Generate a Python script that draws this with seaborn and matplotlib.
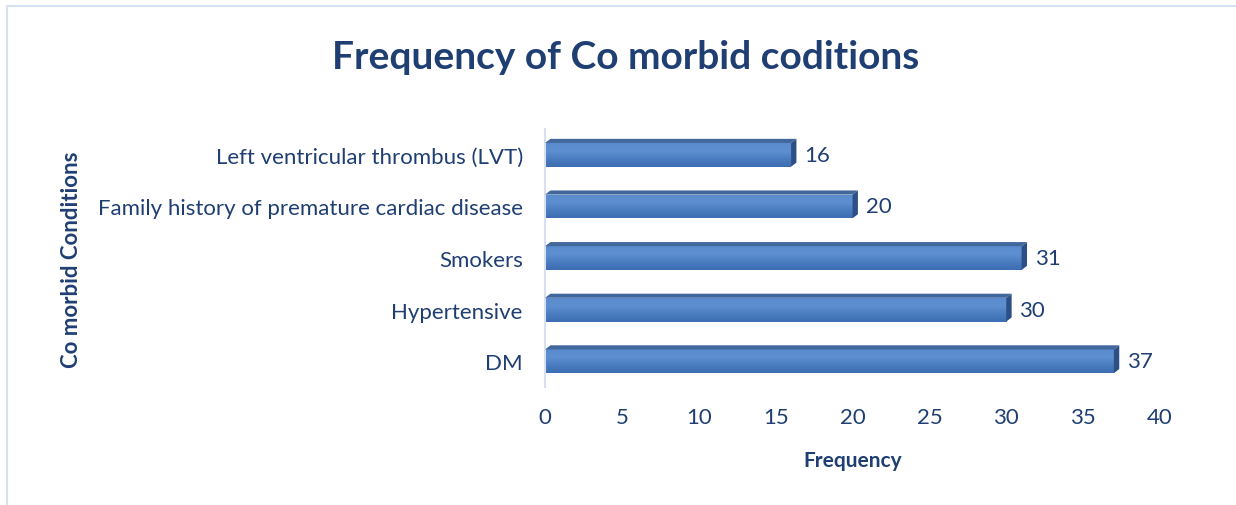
import matplotlib
matplotlib.use("Agg")
import matplotlib.pyplot as plt
import seaborn as sns
import numpy as np
import pandas as pd
from matplotlib.patches import Polygon
from matplotlib.colors import LinearSegmentedColormap

conditions = [
    "Left ventricular thrombus (LVT)",
    "Family history of premature cardiac disease",
    "Smokers",
    "Hypertensive",
    "DM",
]
frequency = [16, 20, 31, 30, 37]
x_ticks = [0, 5, 10, 15, 20, 25, 30, 35, 40]

TEXT = "#1f3f73"
BAR = "#4a7cbf"
SIDE = "#2c4f85"
BEVEL = "#41679c"

df = pd.DataFrame({"condition": conditions, "frequency": frequency})

sns.set_theme(style="white")
plt.rcParams["font.family"] = ["Lato", "DejaVu Sans"]

fig = plt.figure(figsize=(12.36, 5.06), dpi=100)
ax = fig.add_axes([0.441, 0.233, 0.4975, 0.51])

sns.barplot(data=df, y="condition", x="frequency", orient="h",
            color=BAR, width=0.46, saturation=1, ax=ax,
            edgecolor="none")

grad = LinearSegmentedColormap.from_list(
    "g", ["#5a8bcd", "#5d8fd1", "#4a7cc0", "#3d6db2"])
shade = np.linspace(0, 1, 64).reshape(-1, 1)

# fake 3D look: gradient front, side face and top bevel from each bar patch
dx = 0.35
for p in list(ax.patches):
    x0, y0 = p.get_x(), p.get_y()
    w, h = p.get_width(), p.get_height()
    im = ax.imshow(shade, cmap=grad, aspect="auto", interpolation="bilinear",
                   extent=(x0, x0 + w, y0 + h, y0), zorder=p.get_zorder())
    im.set_clip_path(p)
    side = Polygon([(x0 + w, y0 + h), (x0 + w, y0), (x0 + w + dx, y0 - 0.08),
                    (x0 + w + dx, y0 + h - 0.08)],
                   closed=True, facecolor=SIDE, edgecolor="none", zorder=3)
    ax.add_patch(side)
    top = Polygon([(x0, y0), (x0 + w, y0), (x0 + w + dx, y0 - 0.08),
                   (x0 + dx, y0 - 0.08)],
                  closed=True, facecolor=BEVEL, edgecolor="none", zorder=3)
    ax.add_patch(top)
    ax.text(x0 + w + 0.85, y0 + h / 2, f"{int(w)}", va="center", ha="left",
            fontsize=16, color=TEXT)

ax.set_xlim(0, 40)
ax.set_ylim(4.5, -0.5)
ax.set_xticks(x_ticks)
ax.set_xticklabels([str(t) for t in x_ticks], fontsize=16, color=TEXT)
ax.tick_params(axis="y", labelsize=16, labelcolor=TEXT, length=0, pad=16)
ax.tick_params(axis="x", length=0, pad=14)

for s in ["top", "right", "bottom"]:
    ax.spines[s].set_visible(False)
ax.spines["left"].set_color("#d6e0ef")
ax.spines["left"].set_linewidth(1.5)

ax.set_xlabel("Frequency", fontsize=15, fontweight="bold", color=TEXT, labelpad=17)
ax.set_ylabel("")
fig.text(0.058, 0.487, "Co morbid Conditions", rotation=90, fontsize=16,
         fontweight="bold", color=TEXT, ha="center", va="center")

fig.text(0.506, 0.886, "Frequency of Co morbid coditions", fontsize=28,
         fontweight="bold", color=TEXT, ha="center", va="center")

# outer chart frame (top and left edges)
fig.add_artist(plt.Line2D([0.006, 1.0], [0.986, 0.986], color="#d6e2f3", lw=1.5))
fig.add_artist(plt.Line2D([0.006, 0.006], [0.0, 0.986], color="#d6e2f3", lw=1.5))

fig.savefig("out.png", dpi=100)
